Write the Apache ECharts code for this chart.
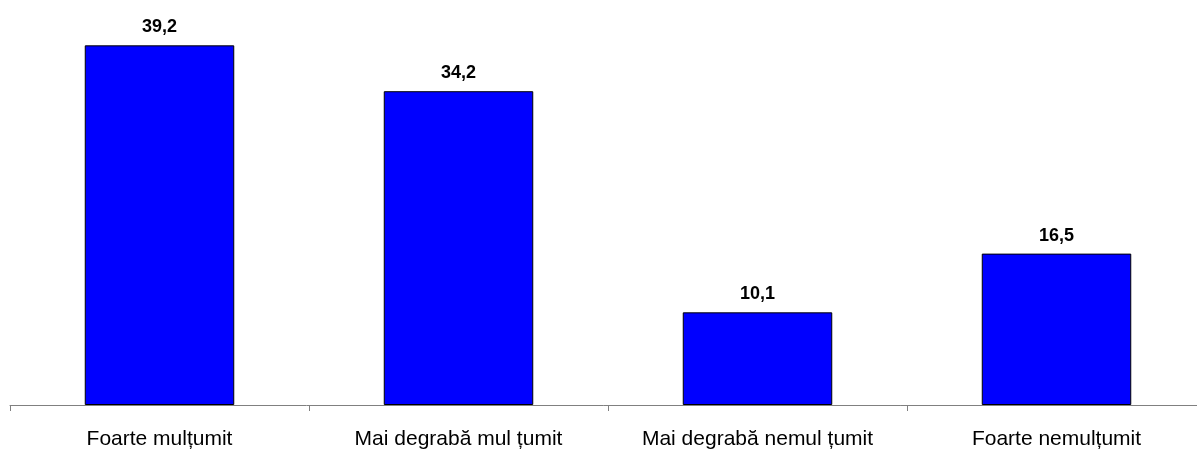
<!DOCTYPE html>
<html>
<head>
<meta charset="utf-8">
<script src="https://cdn.jsdelivr.net/npm/echarts@6/dist/echarts.min.js"></script>
<style>
  html, body { margin: 0; padding: 0; background: #fff; }
  #chart { width: 1197px; height: 456px; }
</style>
</head>
<body>
<div id="chart"></div>
<script>
// categorii + procente
const categories = ['Foarte mulțumit', 'Mai degrabă mul țumit', 'Mai degrabă nemul țumit', 'Foarte nemulțumit']
const values = [39.2, 34.2, 10.1, 16.5]

const chart = echarts.init(document.getElementById('chart'))
chart.setOption({
  animation: false,
  // axa continuă dincolo de marginea dreaptă (ca în original)
  grid: { left: 10, width: 1196, top: 38, bottom: 51, containLabel: false, outerBoundsMode: 'none' },
  xAxis: {
    type: 'category',
    data: categories,
    axisLine: { lineStyle: { color: '#808080', width: 1 } },
    axisTick: { show: true, length: 6, lineStyle: { color: '#808080' } },
    axisLabel: {
      color: '#000',
      fontFamily: 'Liberation Sans, Arial, sans-serif',
      fontSize: 21,
      margin: 24,
      interval: 0
    }
  },
  yAxis: {
    type: 'value',
    min: 0,
    max: 40,
    show: false,
    splitLine: { show: false }
  },
  series: [
    {
      type: 'bar',
      data: values,
      barWidth: '50%',
      itemStyle: { color: '#0000FF', borderColor: '#000', borderWidth: 1 },
      label: {
        show: true,
        position: 'top',
        distance: 9,
        color: '#000',
        fontFamily: 'Liberation Sans, Arial, sans-serif',
        fontWeight: 'bold',
        fontSize: 18,
        formatter: p => String(p.value).replace('.', ',')
      }
    }
  ]
})
</script>
</body>
</html>
